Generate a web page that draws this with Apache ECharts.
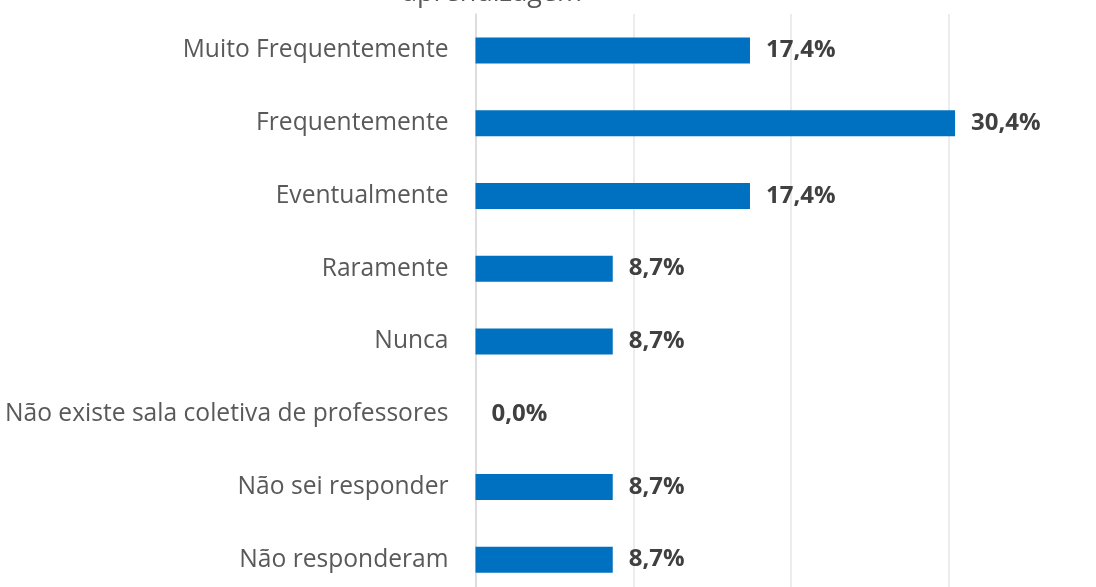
<!DOCTYPE html>
<html>
<head>
<meta charset="utf-8">
<script src="https://cdn.jsdelivr.net/npm/echarts@6/dist/echarts.min.js"></script>
<style>html,body{margin:0;padding:0;background:#fff;}#c{width:1096px;height:587px;}</style>
</head>
<body>
<div id="c"></div>
<script>
var titleText = 'aprendizagem';
var categories = ['Muito Frequentemente', 'Frequentemente', 'Eventualmente', 'Raramente', 'Nunca', 'Não existe sala coletiva de professores', 'Não sei responder', 'Não responderam'];
var values = [17.4, 30.4, 17.4, 8.7, 8.7, 0.0, 8.7, 8.7];
var axisMax = 40;
var axisInterval = 10;

var chart = echarts.init(document.getElementById('c'), null, {renderer: 'canvas'});
chart.setOption({
  animation: false,
  backgroundColor: '#ffffff',
  title: {
    text: titleText,
    left: 487,
    textAlign: 'center',
    top: -25,
    textStyle: {fontFamily: 'Open Sans', fontSize: 27, fontWeight: 'normal', color: '#595959'}
  },
  grid: {left: 475.5, width: 631, top: 14, height: 582, containLabel: false, outerBoundsMode: 'none'},
  xAxis: {
    type: 'value',
    min: 0,
    max: axisMax,
    interval: axisInterval,
    axisLabel: {show: false},
    axisLine: {show: false},
    axisTick: {show: false},
    splitLine: {show: true, lineStyle: {color: '#e6e6e6', width: 1.5}}
  },
  yAxis: {
    type: 'category',
    data: categories,
    inverse: true,
    axisLine: {show: true, lineStyle: {color: '#d9d9d9', width: 1.5}},
    axisTick: {show: false},
    axisLabel: {fontFamily: 'Open Sans', fontSize: 24.6, color: '#595959', margin: 27}
  },
  series: [{
    type: 'bar',
    data: values,
    barWidth: 26,
    itemStyle: {color: '#0070C0'},
    label: {
      show: true,
      position: 'right',
      distance: 16,
      fontFamily: 'Open Sans',
      fontSize: 24,
      fontWeight: 'bold',
      color: '#404040',
      formatter: function (p) { return p.value.toFixed(1).replace('.', ',') + '%'; }
    }
  }]
});
</script>
</body>
</html>
